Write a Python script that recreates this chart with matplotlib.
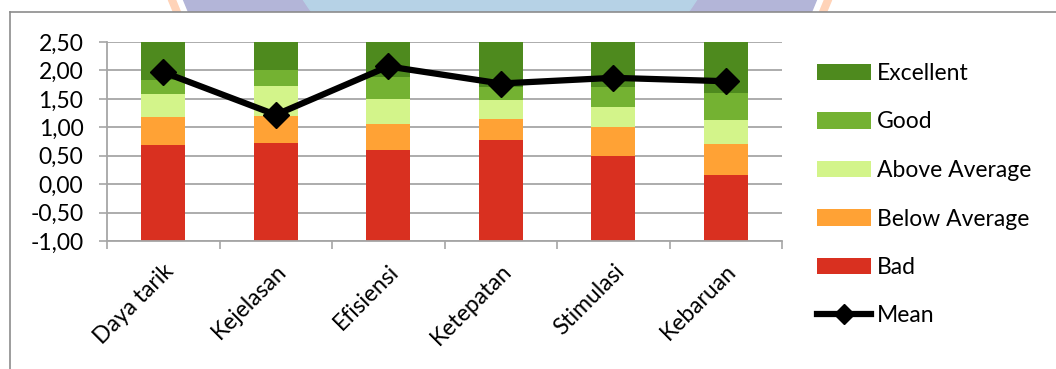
import matplotlib.pyplot as plt
from matplotlib.patches import Patch, Circle
from matplotlib.lines import Line2D
import numpy as np

plt.rcParams['font.family'] = ['Lato', 'DejaVu Sans']

# scales (UEQ benchmark) and the measured means
scales = ['Daya tarik', 'Kejelasan', 'Efisiensi', 'Ketepatan', 'Stimulasi', 'Kebaruan']
bad = [0.69, 0.72, 0.60, 0.78, 0.50, 0.16]
below_avg = [1.18, 1.20, 1.05, 1.14, 1.00, 0.70]
above_avg = [1.58, 1.73, 1.50, 1.48, 1.35, 1.12]
good = [1.84, 2.00, 1.88, 1.70, 1.70, 1.60]
excellent = [2.50, 2.50, 2.50, 2.50, 2.50, 2.50]
mean = [1.97, 1.22, 2.07, 1.77, 1.87, 1.81]

ymin, ymax = -1.0, 2.5
yticks = [-1.0, -0.5, 0.0, 0.5, 1.0, 1.5, 2.0, 2.5]

bands = [('Excellent', excellent, '#4e8a1e'),
         ('Good', good, '#74b232'),
         ('Above Average', above_avg, '#d3f48a'),
         ('Below Average', below_avg, '#ffa235'),
         ('Bad', bad, '#d93020')]

fig = plt.figure(figsize=(10.56, 3.69), dpi=100)

# faint logo watermark peeking above the chart area (strip of 12 px at the top)
wm = fig.add_axes([0, 357 / 369, 1, 12 / 369])
wm.set_xlim(0, 1056)
wm.set_ylim(369, 357)
wm.axis('off')
for r, col in [(355, '#ffd3b8'), (347, 'white'), (341, '#b3b5d8'), (234, '#b6d2e6')]:
    wm.add_patch(Circle((500, 230), r, color=col))

# chart area border (top and left edge)
fig.add_artist(Line2D([10 / 1056, 1], [1 - 12 / 369, 1 - 12 / 369], color='#8c8c8c', lw=1.2))
fig.add_artist(Line2D([10 / 1056, 10 / 1056], [0, 1 - 12 / 369], color='#8c8c8c', lw=1.2))

ax = fig.add_axes([107 / 1056, 1 - 241 / 369, 675 / 1056, 199 / 369])
x = np.arange(len(scales))

# stacked from the bottom of the axis
lower = np.full(len(scales), ymin)
for name, top, col in reversed(bands):
    top = np.array(top)
    ax.bar(x, top - lower, bottom=lower, width=0.39, color=col, zorder=2)
    lower = top

ax.plot(x, mean, color='black', lw=4.5, marker='D', ms=13, zorder=3)

ax.set_xlim(-0.5, len(scales) - 0.5)
ax.set_ylim(ymin, ymax)
ax.set_yticks(yticks)
ax.set_yticklabels([f'{v:.2f}'.replace('.', ',') for v in yticks], fontsize=16.5)
ax.yaxis.grid(True, color='#a6a6a6', lw=1.3, zorder=0)
ax.set_axisbelow(True)

ax.set_xticks(x)
ax.set_xticklabels(scales, fontsize=16.5, rotation=45, ha='right', rotation_mode='anchor')
ax.set_xticks(np.arange(-0.5, len(scales)), minor=True)
ax.tick_params(axis='x', which='major', length=0, pad=14)
ax.tick_params(axis='x', which='minor', length=6, color='#a6a6a6', width=1.2)
ax.tick_params(axis='y', length=6, color='#a6a6a6', width=1.2, pad=11)

for s in ['top', 'right']:
    ax.spines[s].set_visible(False)
for s in ['left', 'bottom']:
    ax.spines[s].set_color('#a6a6a6')
    ax.spines[s].set_linewidth(1.3)

handles = [Patch(facecolor=col, label=name) for name, _, col in bands]
handles.append(Line2D([], [], color='black', lw=4.5, marker='D', ms=10, label='Mean'))
fig.legend(handles=handles, loc='upper left', bbox_to_anchor=(817 / 1056, 1 - 63 / 369),
           frameon=False, fontsize=16.5, handlelength=2.35, handleheight=0.7,
           labelspacing=1.2, handletextpad=0.25, borderpad=0, borderaxespad=0)

fig.savefig('out.png', dpi=100)
